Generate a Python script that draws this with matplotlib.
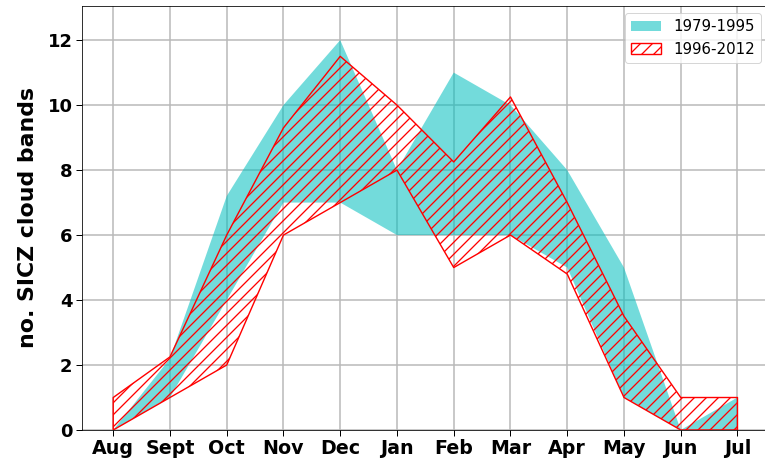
import matplotlib
matplotlib.use("Agg")
import matplotlib.pyplot as plt
import numpy as np

months = ['Aug', 'Sept', 'Oct', 'Nov', 'Dec', 'Jan', 'Feb', 'Mar', 'Apr', 'May', 'Jun', 'Jul']
p1_label = '1979-1995'
p1_upper = [0, 2.2, 7.2, 10, 12, 8, 11, 10, 8, 5, 0, 1]
p1_lower = [0, 1, 4, 7, 7, 6, 6, 6, 5, 1, 0, 0]
p2_label = '1996-2012'
p2_upper = [1, 2.25, 6, 9.3, 11.5, 10, 8.25, 10.25, 7, 3.5, 1, 1]
p2_lower = [0, 1, 2, 6, 7, 8, 5, 6, 4.8, 1, 0, 0]
yticks = [0, 2, 4, 6, 8, 10, 12]

plt.rcParams['hatch.linewidth'] = 1.3

W, H, DPI = 765, 465, 72
fig = plt.figure(figsize=(W / DPI, H / DPI), dpi=DPI)
ax = fig.add_axes([82 / W, 35 / H, 686.7 / W, 424 / H])

x = np.arange(len(months))
ax.fill_between(x, p1_lower, p1_upper, facecolor='c', alpha=0.55,
                edgecolor='none', linewidth=0, label=p1_label)
ax.fill_between(x, p2_lower, p2_upper, facecolor='none', edgecolor='red',
                hatch='//', linewidth=1.4, label=p2_label)

ax.set_xlim(-0.55, 11.55)
ax.set_ylim(0, 13.05)
ax.set_xticks(x)
ax.set_xticklabels(months, fontsize=19, fontweight='bold')
ax.set_yticks(yticks)
ax.set_yticklabels([str(v) for v in yticks], fontsize=18, fontweight='bold')
ax.tick_params(length=6, width=1)
ax.grid(True, color='#b8b8b8', linewidth=1.5)
ax.set_axisbelow(True)

ax.set_ylabel('no. SICZ cloud bands', fontsize=22, fontweight='bold')
ax.yaxis.set_label_coords(-0.064, 0.5)

ax.legend(loc='upper right', fontsize=15)

fig.savefig('out.png', dpi=DPI)
